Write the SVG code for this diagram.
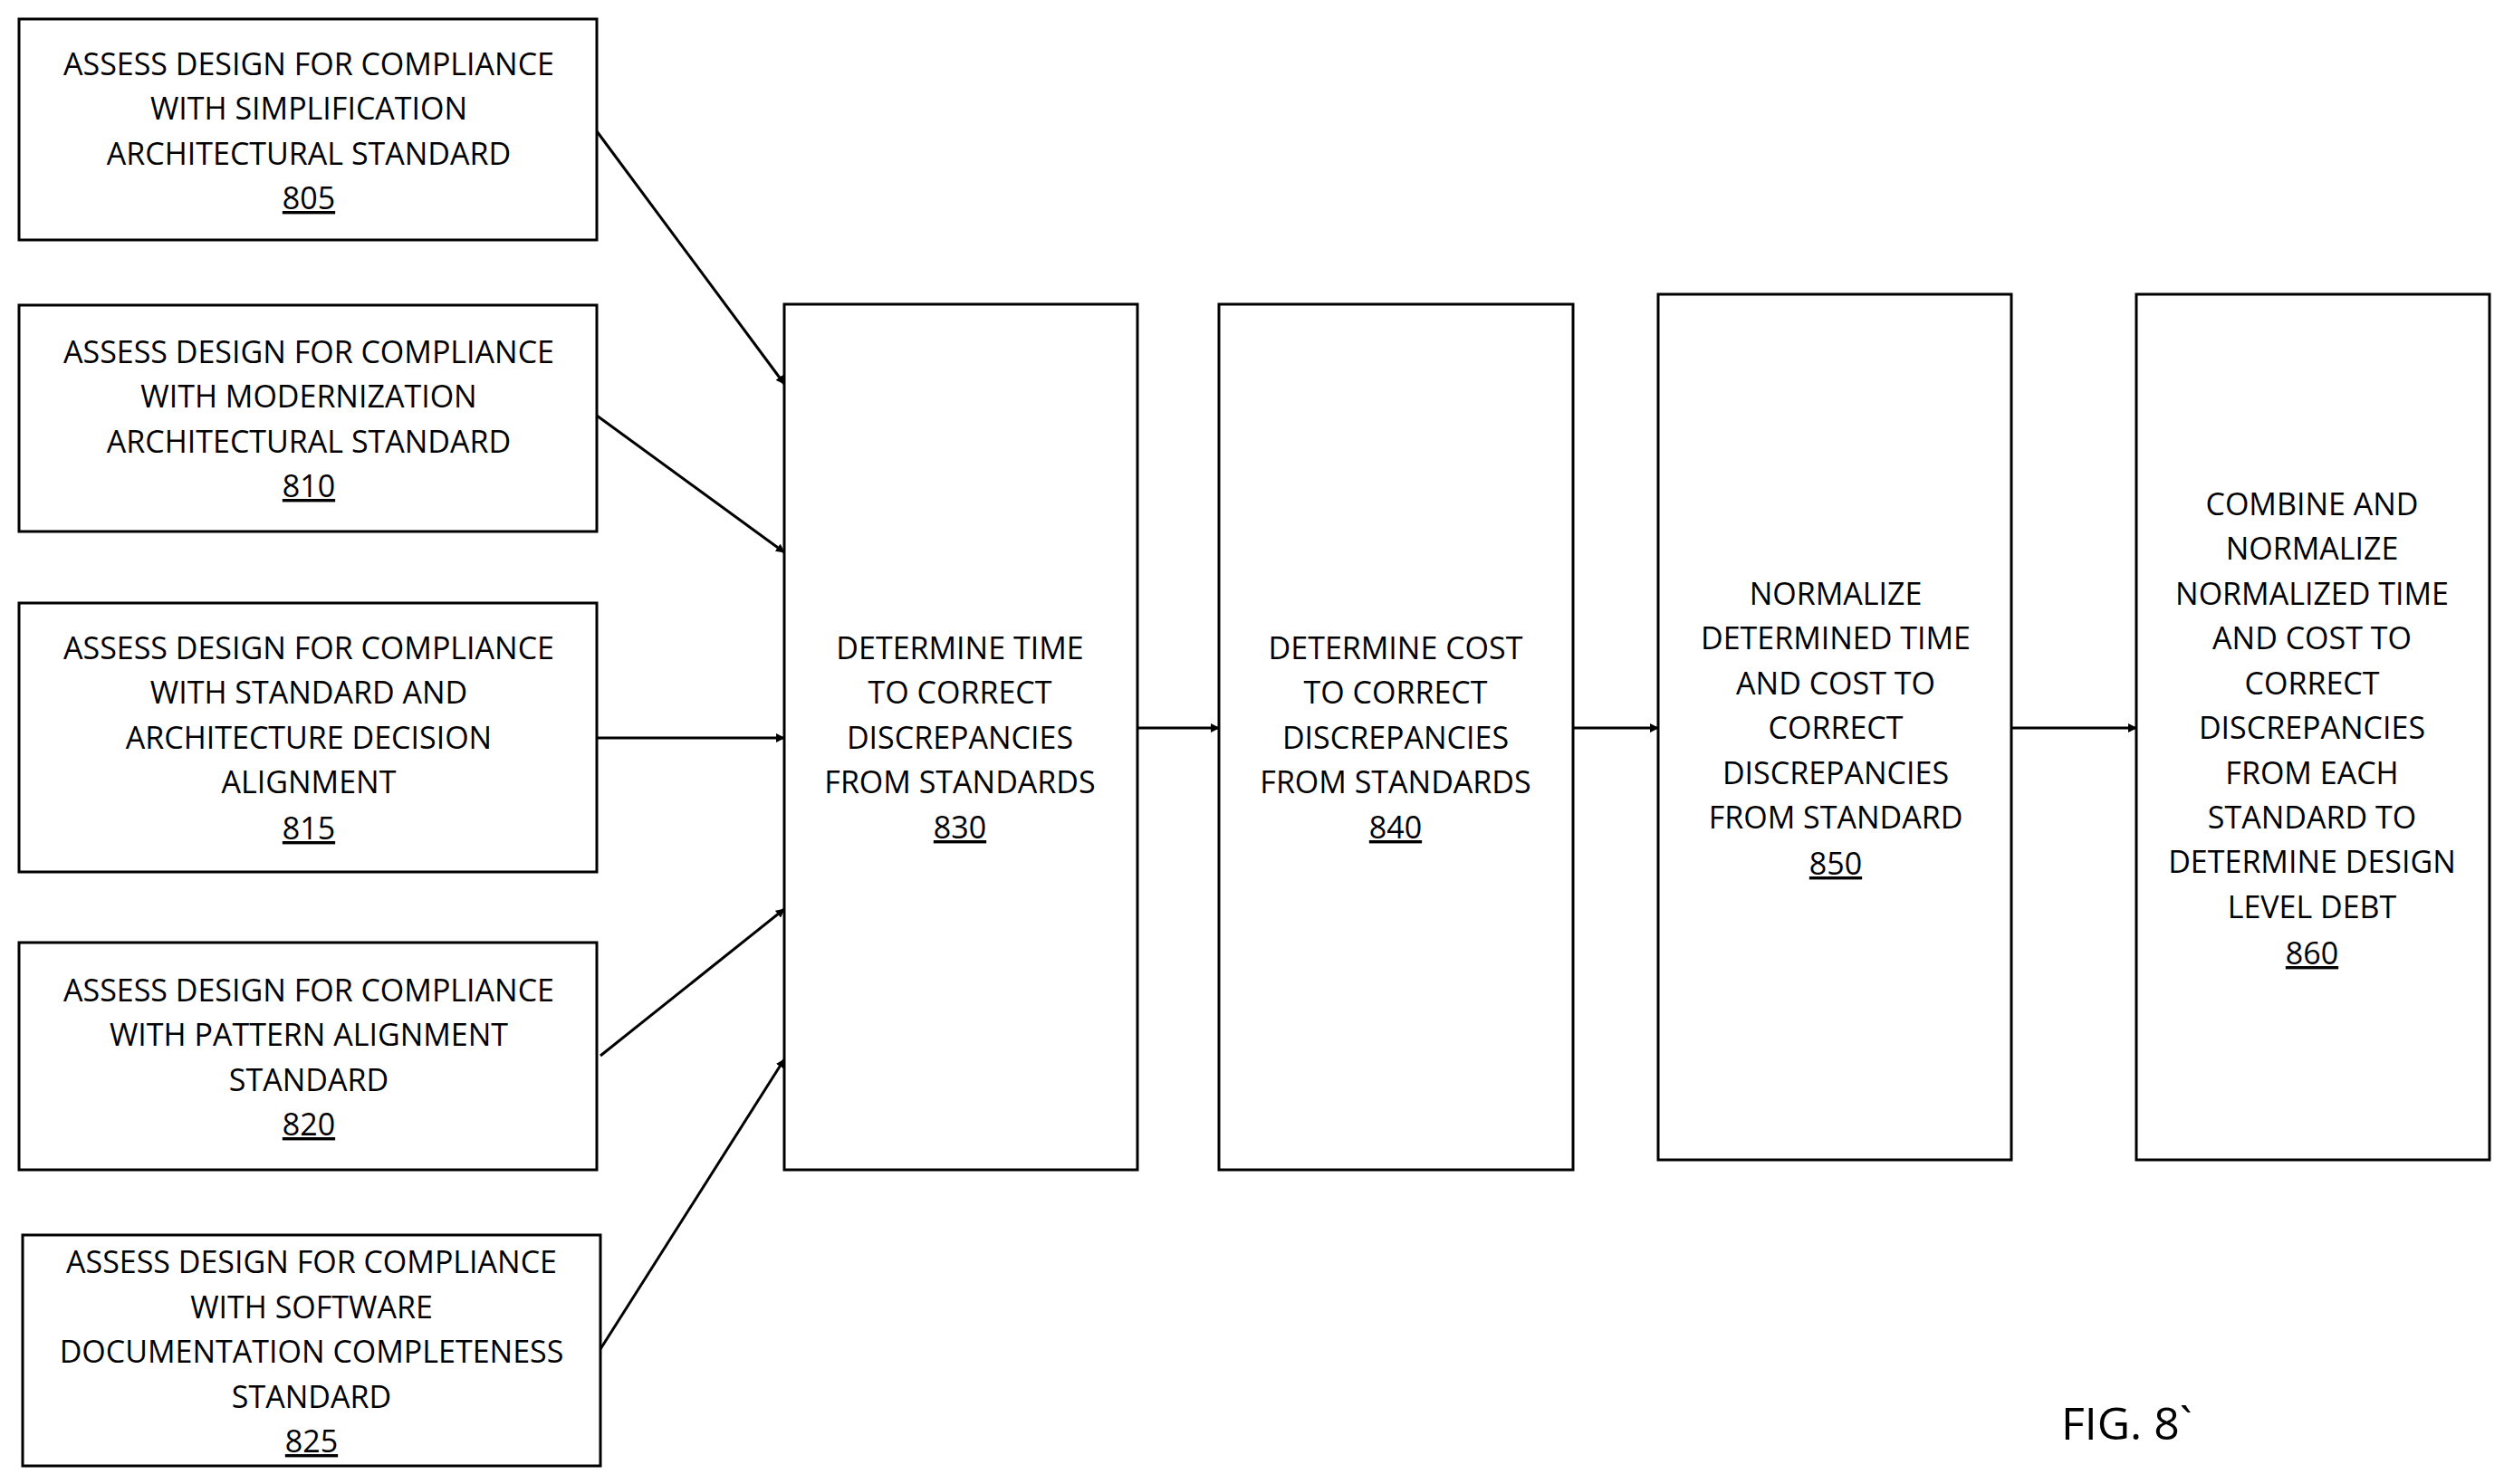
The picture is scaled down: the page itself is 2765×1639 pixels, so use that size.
<svg xmlns="http://www.w3.org/2000/svg" width="2765" height="1639" viewBox="0 0 2765 1639">
<style>
rect{fill:#fff;stroke:#000;stroke-width:3}
text{font-family:"Open Sans","Liberation Sans",sans-serif;font-size:34px;text-anchor:middle;fill:#000}
.u{text-decoration:underline}
line{stroke:#000;stroke-width:3;marker-end:url(#a)}
</style>
<defs><marker id="a" markerWidth="10" markerHeight="10" refX="9" refY="5" orient="auto" markerUnits="userSpaceOnUse" viewBox="0 0 10 10"><path d="M0,0L10,5L0,10z" fill="#000"/></marker></defs>
<rect width="2765" height="1639" style="stroke:none"/>
<g id="n805"><rect x="21" y="21" width="638" height="244"/><text x="341" y="83">ASSESS DESIGN FOR COMPLIANCE</text><text x="341" y="132">WITH SIMPLIFICATION</text><text x="341" y="182">ARCHITECTURAL STANDARD</text><text x="341" y="231" class="u">805</text></g>
<g id="n810"><rect x="21" y="337" width="638" height="250"/><text x="341" y="401">ASSESS DESIGN FOR COMPLIANCE</text><text x="341" y="450">WITH MODERNIZATION</text><text x="341" y="500">ARCHITECTURAL STANDARD</text><text x="341" y="549" class="u">810</text></g>
<g id="n815"><rect x="21" y="666" width="638" height="297"/><text x="341" y="728">ASSESS DESIGN FOR COMPLIANCE</text><text x="341" y="777">WITH STANDARD AND</text><text x="341" y="827">ARCHITECTURE DECISION</text><text x="341" y="876">ALIGNMENT</text><text x="341" y="927" class="u">815</text></g>
<g id="n820"><rect x="21" y="1041" width="638" height="251"/><text x="341" y="1106">ASSESS DESIGN FOR COMPLIANCE</text><text x="341" y="1155">WITH PATTERN ALIGNMENT</text><text x="341" y="1205">STANDARD</text><text x="341" y="1254" class="u">820</text></g>
<g id="n825"><rect x="25" y="1364" width="638" height="255"/><text x="344" y="1406">ASSESS DESIGN FOR COMPLIANCE</text><text x="344" y="1456">WITH SOFTWARE</text><text x="344" y="1505">DOCUMENTATION COMPLETENESS</text><text x="344" y="1555">STANDARD</text><text x="344" y="1604" class="u">825</text></g>
<g id="n830"><rect x="866" y="336" width="390" height="956"/><text x="1060" y="728">DETERMINE TIME</text><text x="1060" y="777">TO CORRECT</text><text x="1060" y="827">DISCREPANCIES</text><text x="1060" y="876">FROM STANDARDS</text><text x="1060" y="926" class="u">830</text></g>
<g id="n840"><rect x="1346" y="336" width="391" height="956"/><text x="1541" y="728">DETERMINE COST</text><text x="1541" y="777">TO CORRECT</text><text x="1541" y="827">DISCREPANCIES</text><text x="1541" y="876">FROM STANDARDS</text><text x="1541" y="926" class="u">840</text></g>
<g id="n850"><rect x="1831" y="325" width="390" height="956"/><text x="2027" y="668">NORMALIZE</text><text x="2027" y="717">DETERMINED TIME</text><text x="2027" y="767">AND COST TO</text><text x="2027" y="816">CORRECT</text><text x="2027" y="866">DISCREPANCIES</text><text x="2027" y="915">FROM STANDARD</text><text x="2027" y="966" class="u">850</text></g>
<g id="n860"><rect x="2359" y="325" width="390" height="956"/><text x="2553" y="569">COMBINE AND</text><text x="2553" y="618">NORMALIZE</text><text x="2553" y="668">NORMALIZED TIME</text><text x="2553" y="717">AND COST TO</text><text x="2553" y="767">CORRECT</text><text x="2553" y="816">DISCREPANCIES</text><text x="2553" y="866">FROM EACH</text><text x="2553" y="915">STANDARD TO</text><text x="2553" y="964">DETERMINE DESIGN</text><text x="2553" y="1014">LEVEL DEBT</text><text x="2553" y="1065" class="u">860</text></g>
<g id="connectors">
<line x1="659" y1="145" x2="866" y2="424"/>
<line x1="659" y1="459" x2="866" y2="610"/>
<line x1="659" y1="815" x2="866" y2="815"/>
<line x1="663" y1="1166" x2="866" y2="1004"/>
<line x1="663" y1="1490" x2="866" y2="1170"/>
<line x1="1256" y1="804" x2="1346" y2="804"/>
<line x1="1737" y1="804" x2="1831" y2="804"/>
<line x1="2221" y1="804" x2="2359" y2="804"/>
</g>
<text x="2276" y="1590" style="text-anchor:start;font-size:50px">FIG. 8`</text>
</svg>
